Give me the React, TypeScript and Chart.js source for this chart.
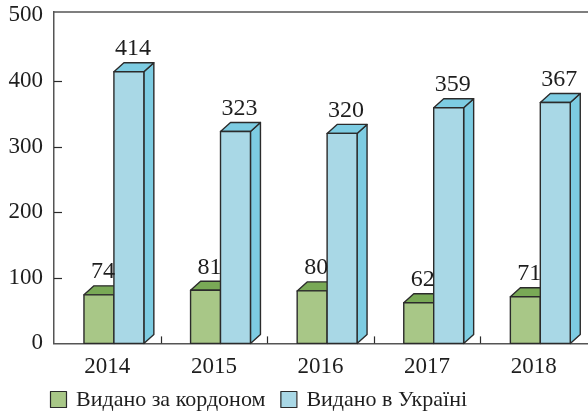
import { useEffect, useRef } from 'react';
import { Chart, registerables } from 'chart.js';

Chart.register(...registerables);

const categories = ['2014', '2015', '2016', '2017', '2018'];
const abroad = [74, 81, 80, 62, 71];
const ukraine = [414, 323, 320, 359, 367];
const yTicks = [0, 100, 200, 300, 400, 500];
const seriesNames = ['Видано за кордоном', 'Видано в Україні'];

const FONT = '"Liberation Serif", "DejaVu Serif", serif';
const INK = '#2b2b2b';
const FRONT = ['#a8c787', '#a9d8e6'];
const TOP = ['#79a956', '#7dcce2'];
const SIDE = ['#79a956', '#7dcce2'];
const DX = 10;
const DY = 9;

const bars3d = {
  id: 'bars3d',
  afterDatasetsDraw(chart: any) {
    const ctx = chart.ctx;
    const xs = chart.scales.x;
    const area = chart.chartArea;
    const catW = (area.right - area.left) / categories.length;
    const shift = catW * 0.062;
    ctx.save();
    ctx.lineWidth = 1.4;
    ctx.strokeStyle = INK;
    ctx.lineJoin = 'round';
    for (let i = 0; i < categories.length; i++) {
      for (let d = 0; d < chart.data.datasets.length; d++) {
        const el = chart.getDatasetMeta(d).data[i];
        const p = el.getProps(['x', 'y', 'base', 'width'], true);
        const w = p.width;
        const left = p.x - w / 2 + shift;
        const right = left + w;
        const top = p.y;
        const base = p.base;
        ctx.beginPath();
        ctx.moveTo(right, top);
        ctx.lineTo(right + DX, top - DY);
        ctx.lineTo(right + DX, base - DY);
        ctx.lineTo(right, base);
        ctx.closePath();
        ctx.fillStyle = SIDE[d];
        ctx.fill();
        ctx.stroke();
        ctx.beginPath();
        ctx.moveTo(left, top);
        ctx.lineTo(left + DX, top - DY);
        ctx.lineTo(right + DX, top - DY);
        ctx.lineTo(right, top);
        ctx.closePath();
        ctx.fillStyle = TOP[d];
        ctx.fill();
        ctx.stroke();
        ctx.fillStyle = FRONT[d];
        ctx.fillRect(left, top, w, base - top);
        ctx.strokeRect(left, top, w, base - top);
      }
    }
    ctx.fillStyle = '#1e1e1e';
    ctx.font = '24px ' + FONT;
    ctx.textAlign = 'center';
    ctx.textBaseline = 'bottom';
    for (let d = 0; d < chart.data.datasets.length; d++) {
      const meta = chart.getDatasetMeta(d);
      meta.data.forEach((el: any, i: number) => {
        const p = el.getProps(['x', 'y', 'width'], true);
        const left = p.x - p.width / 2 + shift;
        const cx = left + p.width / 2 + DX / 2 - 1;
        ctx.fillText(String(chart.data.datasets[d].data[i]), cx, p.y - DY - 2);
      });
    }
    ctx.strokeStyle = '#555';
    ctx.lineWidth = 1.5;
    ctx.beginPath();
    ctx.moveTo(area.left, area.top);
    ctx.lineTo(chart.width, area.top);
    ctx.stroke();
    const ys = chart.scales.y;
    ctx.strokeStyle = INK;
    ctx.lineWidth = 1.2;
    yTicks.forEach((v) => {
      if (v === 0 || v === yTicks[yTicks.length - 1]) return;
      const yy = Math.round(ys.getPixelForValue(v)) + 0.5;
      ctx.beginPath();
      ctx.moveTo(area.left, yy);
      ctx.lineTo(area.left + 8, yy);
      ctx.stroke();
    });
    for (let i = 1; i < categories.length; i++) {
      const xx = Math.round((xs.getPixelForValue(i - 1) + xs.getPixelForValue(i)) / 2) + 0.5;
      ctx.beginPath();
      ctx.moveTo(xx, area.bottom);
      ctx.lineTo(xx, area.bottom - 7);
      ctx.stroke();
    }
    ctx.font = '22px ' + FONT;
    ctx.textAlign = 'left';
    ctx.textBaseline = 'middle';
    let lx = 50;
    const ly = 399;
    chart.data.datasets.forEach((ds: any, d: number) => {
      ctx.fillStyle = FRONT[d];
      ctx.fillRect(lx, ly - 8, 16, 16);
      ctx.strokeStyle = INK;
      ctx.lineWidth = 1.2;
      ctx.strokeRect(lx + 0.5, ly - 7.5, 16, 16);
      ctx.fillStyle = '#1e1e1e';
      ctx.fillText(ds.label, lx + 26, ly + 1);
      lx += 26 + ctx.measureText(ds.label).width + 15;
    });
    ctx.restore();
  },
};

export default function App() {
  const ref = useRef<HTMLCanvasElement>(null);
  useEffect(() => {
    document.body.style.margin = '0';
    const chart = new Chart(ref.current as HTMLCanvasElement, {
      type: 'bar',
      data: {
        labels: categories,
        datasets: [
          { label: seriesNames[0], data: abroad, backgroundColor: 'rgba(0,0,0,0)', borderWidth: 0 },
          { label: seriesNames[1], data: ukraine, backgroundColor: 'rgba(0,0,0,0)', borderWidth: 0 },
        ],
      },
      options: {
        responsive: false,
        animation: false,
        datasets: { bar: { categoryPercentage: 0.5618, barPercentage: 1 } },
        layout: { padding: { top: 12, bottom: 22, left: 0, right: 1 } },
        plugins: { legend: { display: false }, tooltip: { enabled: false } },
        scales: {
          x: {
            grid: { display: false, drawTicks: false },
            border: { display: true, color: '#555', width: 1.5 },
            ticks: { color: '#1e1e1e', font: { family: FONT, size: 23 }, padding: 10 },
          },
          y: {
            min: 0,
            max: 505,
            grid: { display: false, drawTicks: false },
            border: { display: true, color: '#555', width: 1.5 },
            ticks: { color: '#1e1e1e', font: { family: FONT, size: 23 }, padding: 11 },
            afterBuildTicks: (s: any) => { s.ticks = yTicks.map((v) => ({ value: v })); },
            afterFit: (s: any) => { s.width = 54; s.paddingTop = 0; s.paddingBottom = 0; },
          },
        },
      },
      plugins: [bars3d],
    });
    return () => chart.destroy();
  }, []);
  return (
    <div style={{ width: 588, height: 413 }}>
      <canvas ref={ref} width={588} height={413} />
    </div>
  );
}
